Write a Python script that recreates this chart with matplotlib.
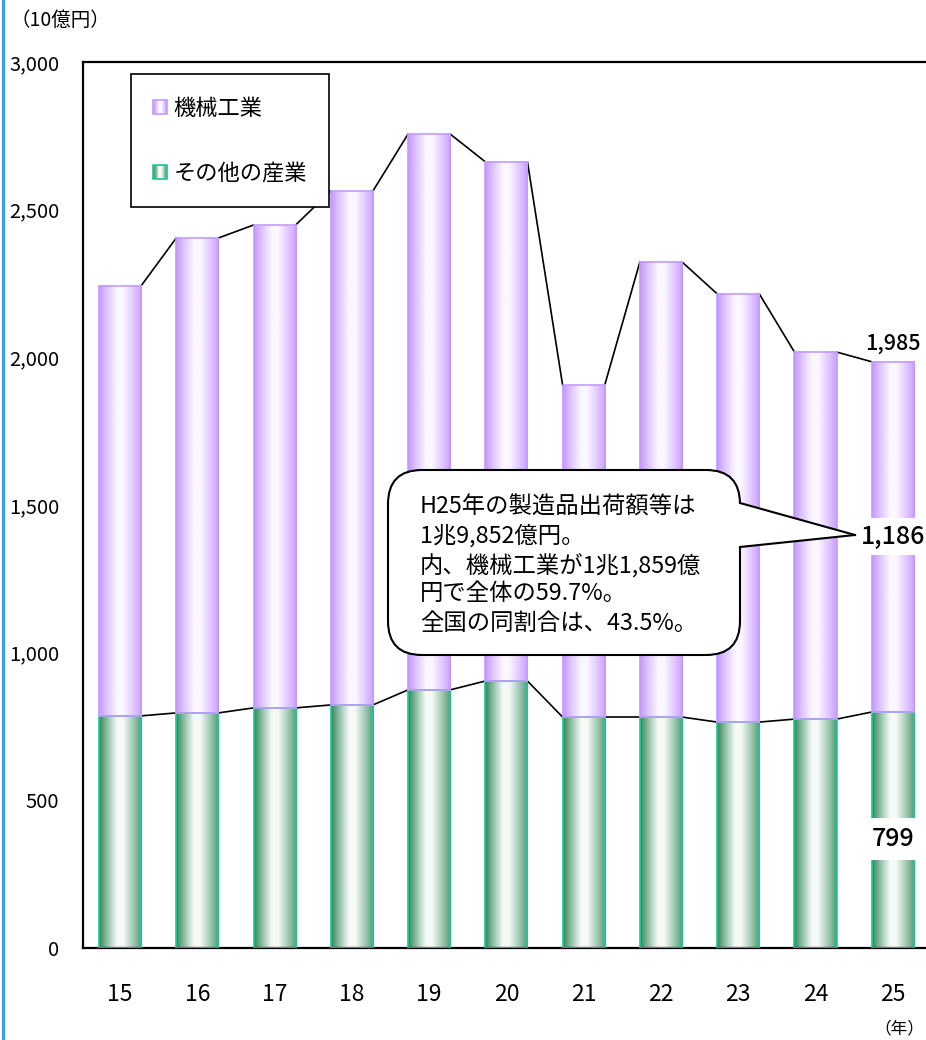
import numpy as np
import matplotlib
matplotlib.use('Agg')
import matplotlib.pyplot as plt
from matplotlib.patches import Rectangle, FancyBboxPatch, Polygon, Patch
from matplotlib.legend_handler import HandlerBase
from matplotlib.transforms import IdentityTransform
from matplotlib.lines import Line2D

plt.rcParams['font.family'] = ['Noto Sans CJK JP', 'DejaVu Sans']

# ---- data ----
years = ['15', '16', '17', '18', '19', '20', '21', '22', '23', '24', '25']
other = [786, 796, 813, 823, 874, 904, 782, 782, 765, 775, 799]
machinery = [1456, 1608, 1635, 1740, 1882, 1758, 1124, 1541, 1450, 1243, 1186]
series_names = ['機械工業', 'その他の産業']
y_ticks = [0, 500, 1000, 1500, 2000, 2500, 3000]
callout_lines = ['H25年の製造品出荷額等は', '1兆9,852億円。', '内、機械工業が1兆1,859億',
                 '円で全体の59.7%。', '全国の同割合は、43.5%。']
unit_label = '（10億円）'
year_label = '（年）'

W, H = 926, 1040
fig = plt.figure(figsize=(W / 100, H / 100), dpi=100)
ax = fig.add_axes([83 / W, (H - 948) / H, 1 - 83 / W, (948 - 62) / H])

x = np.arange(len(years))
other_a = np.array(other)
mach_a = np.array(machinery)
total = other_a + mach_a
bw = 0.545

def grad_colors(edge_l, edge_r, center, n=64):
    t = np.linspace(0, 1, n)
    mix = np.where(t < 0.42, t / 0.42, np.where(t < 0.56, 1.0, (1 - t) / 0.44))
    mix = np.clip(mix, 0, 1) ** 0.9
    el = np.array(matplotlib.colors.to_rgb(edge_l))
    er = np.array(matplotlib.colors.to_rgb(edge_r))
    c = np.array(matplotlib.colors.to_rgb(center))
    edge = np.where((t < 0.5)[:, None], el[None, :], er[None, :])
    return edge * (1 - mix[:, None]) + c[None, :] * mix[:, None]

purple_grad = grad_colors('#C596FF', '#C99CFF', '#FBF7FF')
green_grad = grad_colors('#2E8656', '#4E9A70', '#F6FAF7')

bars_o = ax.bar(x, other_a, width=bw, facecolor='none', edgecolor='#19C99A', lw=1.2, zorder=3)
bars_m = ax.bar(x, mach_a, width=bw, bottom=other_a, facecolor='none', edgecolor='#C39CFF', lw=1.2, zorder=3)

for bars, g in ((bars_o, green_grad), (bars_m, purple_grad)):
    for p in bars:
        x0, y0, w, h = p.get_x(), p.get_y(), p.get_width(), p.get_height()
        ax.imshow(g[None, :, :], extent=(x0, x0 + w, y0, y0 + h), aspect='auto',
                  interpolation='bilinear', zorder=2)

# series lines
for vals in (total, other_a):
    for i in range(len(x) - 1):
        ax.plot([x[i] + bw / 2, x[i + 1] - bw / 2], [vals[i], vals[i + 1]], color='black', lw=1.2, zorder=1)

ax.set_xlim(-0.479, 10.43)
ax.set_ylim(0, 3000)
ax.set_yticks(y_ticks)
ax.set_yticklabels([f'{v:,}' for v in y_ticks], fontsize=14.5)
ax.set_xticks(x)
ax.set_xticklabels(years, fontsize=16.5)
ax.tick_params(axis='both', length=0)
ax.tick_params(axis='y', pad=17)
ax.tick_params(axis='x', pad=25)
for s in ('top', 'left', 'bottom'):
    ax.spines[s].set_linewidth(1.6)
    ax.spines[s].set_color('black')
ax.spines['right'].set_visible(False)

# value labels for final year
i = len(x) - 1
ax.text(x[i], total[i] + 25, f'{total[i]:,}', ha='center', va='bottom', fontsize=15.5,
        fontweight='medium', zorder=6)
ax.text(x[i], other_a[i] + mach_a[i] / 2, f'{mach_a[i]:,}', ha='center', va='center', fontsize=18,
        fontweight='medium', zorder=6, bbox=dict(facecolor='white', edgecolor='none', pad=4))
ax.text(x[i], other_a[i] / 2 - 30, f'{other_a[i]:,}', ha='center', va='center', fontsize=18,
        fontweight='medium', zorder=6, bbox=dict(facecolor='white', edgecolor='none', pad=6))

# legend with gradient swatches
class GradHandler(HandlerBase):
    def __init__(self, cols, outline):
        super().__init__()
        self.cols = cols
        self.outline = outline

    def create_artists(self, legend, orig_handle, xdescent, ydescent, width, height, fontsize, trans):
        n = 16
        idx = np.linspace(0, len(self.cols) - 1, n).astype(int)
        arts = []
        for k in range(n):
            arts.append(Rectangle((-xdescent + width * k / n, -ydescent), width / n + 0.01, height,
                                  facecolor=self.cols[idx[k]], edgecolor='none', transform=trans))
        arts.append(Rectangle((-xdescent, -ydescent), width, height, facecolor='none',
                              edgecolor=self.outline, lw=1.2, transform=trans))
        return arts

h_m = Patch(label=series_names[0])
h_o = Patch(label=series_names[1])
leg = ax.legend([h_m, h_o], series_names, loc='upper left', bbox_to_anchor=(0.057, 0.986),
                borderaxespad=0, fontsize=16, frameon=True, fancybox=False, edgecolor='black',
                framealpha=1, labelspacing=1.9, handlelength=0.62, handleheight=0.62,
                handletextpad=0.3, borderpad=1.0,
                handler_map={h_m: GradHandler(purple_grad, '#C39CFF'),
                             h_o: GradHandler(green_grad, '#19C99A')})
leg.get_frame().set_linewidth(1.2)
leg.set_zorder(7)

# callout bubble (pixel coordinates, origin bottom-left)
T = IdentityTransform()
def P(px, py):
    return (px, H - py)

box = FancyBboxPatch(P(388, 655), 352, 185, boxstyle='round,pad=0,rounding_size=34',
                     facecolor='white', edgecolor='black', lw=1.5, transform=T, zorder=10)
fig.add_artist(box)
tip = P(855, 535)
ptr = Polygon([P(728, 503), P(742, 503), tip, P(742, 547), P(728, 547)], closed=True,
              facecolor='white', edgecolor='none', transform=T, zorder=11)
fig.add_artist(ptr)
for a in (P(740, 503), P(740, 547)):
    fig.add_artist(Line2D([a[0], tip[0]], [a[1], tip[1]], color='black', lw=1.5, transform=T, zorder=12))
for k, line in enumerate(callout_lines):
    fig.text(420 / W, 1 - (507 + 29 * k) / H, line, ha='left', va='center', fontsize=16.8, zorder=13)

# unit labels
fig.text(10 / W, 1 - 20 / H, unit_label, ha='left', va='center', fontsize=14)
fig.text(924 / W, 1 - 1029 / H, year_label, ha='right', va='center', fontsize=12)

# page border line at left
fig.add_artist(Line2D([3, 3], [0, H], color='#3D9DEB', lw=2.2, transform=T, zorder=20))

fig.savefig('out.png', dpi=100)
